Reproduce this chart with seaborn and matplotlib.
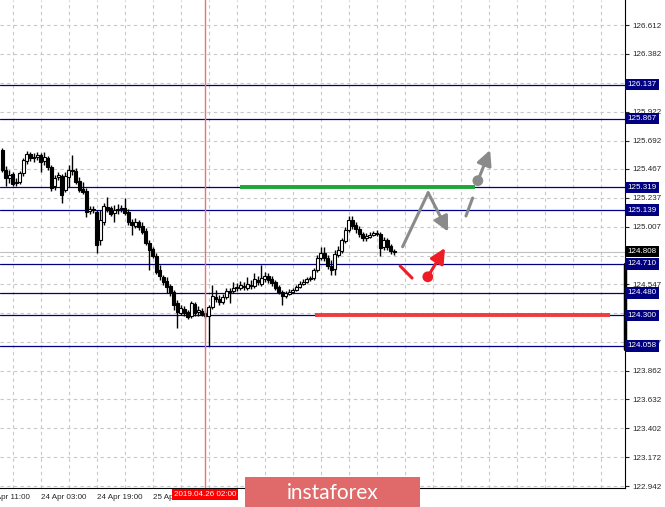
import numpy as np
import pandas as pd
import matplotlib
matplotlib.use("Agg")
import matplotlib.pyplot as plt
import matplotlib.transforms as mtransforms
from matplotlib.patches import Rectangle
import seaborn as sns

# H1 bars (bar 0 = 23 Apr 14:00)
opens = [
    125.617, 125.458, 125.394, 125.426, 125.354, 125.362, 125.434, 125.529, 125.585, 125.553,
    125.561, 125.577, 125.529, 125.553, 125.481, 125.330, 125.402, 125.410, 125.298, 125.402,
    125.450, 125.450, 125.370, 125.306, 125.290, 125.131, 125.147, 125.123, 124.900, 125.044,
    125.163, 125.155, 125.115, 125.139, 125.147, 125.155, 125.123, 125.044, 125.012, 125.044,
    125.012, 124.972, 124.877, 124.829, 124.773, 124.661, 124.606, 124.574, 124.534, 124.487,
    124.399, 124.319, 124.351, 124.327, 124.295, 124.391, 124.327, 124.335, 124.319, 124.295,
    124.367, 124.447, 124.431, 124.407, 124.447, 124.495, 124.495, 124.518, 124.518, 124.534,
    124.518, 124.542, 124.534, 124.582, 124.550, 124.590, 124.614, 124.590, 124.566, 124.526,
    124.487, 124.455, 124.471, 124.487, 124.503, 124.526, 124.550, 124.566, 124.590, 124.598,
    124.661, 124.757, 124.797, 124.757, 124.693, 124.669, 124.781, 124.813, 124.892, 124.980,
    125.059, 125.020, 124.988, 124.948, 124.916, 124.924, 124.940, 124.956, 124.948, 124.845,
    124.900, 124.853, 124.813,
]
highs = [
    125.633, 125.489, 125.458, 125.442, 125.394, 125.450, 125.553, 125.609, 125.601, 125.593,
    125.601, 125.593, 125.601, 125.569, 125.497, 125.418, 125.442, 125.426, 125.442, 125.497,
    125.577, 125.474, 125.402, 125.362, 125.314, 125.171, 125.171, 125.139, 125.139, 125.195,
    125.243, 125.171, 125.179, 125.187, 125.179, 125.235, 125.147, 125.067, 125.075, 125.059,
    125.044, 124.996, 124.900, 124.845, 124.797, 124.701, 124.622, 124.606, 124.550, 124.503,
    124.423, 124.383, 124.375, 124.343, 124.415, 124.407, 124.375, 124.359, 124.343, 124.383,
    124.542, 124.503, 124.463, 124.471, 124.518, 124.518, 124.566, 124.558, 124.574, 124.566,
    124.606, 124.582, 124.638, 124.614, 124.701, 124.646, 124.638, 124.614, 124.582, 124.542,
    124.503, 124.495, 124.511, 124.518, 124.542, 124.574, 124.590, 124.606, 124.614, 124.677,
    124.781, 124.845, 124.845, 124.781, 124.741, 124.821, 124.853, 124.916, 125.004, 125.091,
    125.091, 125.044, 125.012, 124.964, 124.956, 124.964, 124.972, 124.980, 124.964, 124.924,
    124.916, 124.869, 124.829,
]
lows = [
    125.442, 125.330, 125.354, 125.330, 125.330, 125.346, 125.410, 125.505, 125.529, 125.521,
    125.537, 125.442, 125.497, 125.458, 125.290, 125.298, 125.378, 125.195, 125.282, 125.322,
    125.418, 125.346, 125.282, 125.266, 125.083, 125.107, 125.115, 124.797, 124.860, 125.020,
    125.123, 125.091, 125.044, 125.107, 125.123, 125.099, 125.020, 124.940, 124.996, 124.980,
    124.948, 124.860, 124.661, 124.757, 124.630, 124.581, 124.542, 124.479, 124.455, 124.343,
    124.200, 124.303, 124.295, 124.271, 124.279, 124.295, 124.295, 124.295, 124.279, 124.058,
    124.351, 124.407, 124.383, 124.391, 124.431, 124.399, 124.479, 124.495, 124.503, 124.503,
    124.503, 124.511, 124.518, 124.542, 124.534, 124.566, 124.558, 124.534, 124.503, 124.471,
    124.383, 124.439, 124.463, 124.479, 124.495, 124.518, 124.542, 124.558, 124.574, 124.582,
    124.646, 124.741, 124.733, 124.669, 124.622, 124.622, 124.765, 124.797, 124.877, 124.964,
    124.988, 124.956, 124.924, 124.892, 124.892, 124.916, 124.932, 124.932, 124.773, 124.821,
    124.821, 124.789, 124.785,
]
closes = [
    125.458, 125.394, 125.418, 125.346, 125.362, 125.434, 125.537, 125.585, 125.553, 125.561,
    125.577, 125.521, 125.561, 125.481, 125.314, 125.394, 125.418, 125.259, 125.410, 125.458,
    125.448, 125.362, 125.298, 125.282, 125.123, 125.147, 125.139, 124.860, 125.059, 125.171,
    125.139, 125.107, 125.139, 125.147, 125.155, 125.115, 125.044, 125.020, 125.044, 125.004,
    124.964, 124.877, 124.821, 124.773, 124.646, 124.614, 124.566, 124.526, 124.479, 124.383,
    124.327, 124.359, 124.319, 124.287, 124.399, 124.319, 124.343, 124.311, 124.295, 124.367,
    124.455, 124.431, 124.407, 124.447, 124.495, 124.490, 124.518, 124.526, 124.542, 124.526,
    124.550, 124.534, 124.590, 124.566, 124.598, 124.614, 124.582, 124.558, 124.518, 124.487,
    124.455, 124.479, 124.487, 124.503, 124.526, 124.550, 124.566, 124.590, 124.598, 124.661,
    124.757, 124.797, 124.757, 124.693, 124.661, 124.789, 124.821, 124.900, 124.980, 125.059,
    125.012, 124.988, 124.948, 124.916, 124.932, 124.940, 124.956, 124.948, 124.837, 124.900,
    124.845, 124.813, 124.808,
]

# price scale: all grid levels, the ones hidden under level tags get no label
price_grid = [126.612, 126.382, 126.152, 125.922, 125.692, 125.467, 125.237, 125.007,
              124.777, 124.547, 124.317, 124.087, 123.862, 123.632, 123.402, 123.172, 122.942]
price_labels = ["126.612", "126.382", "", "125.922", "125.692", "125.467", "125.237",
                "125.007", "", "124.547", "", "124.087", "123.862", "123.632",
                "123.402", "123.172", "122.942"]
first_time_tick, first_time_label = -5, "23 Apr 11:00"   # cut by the left edge
time_ticks = [11, 27, 43]
time_labels = ["24 Apr 03:00", "24 Apr 19:00", "25 Apr 11:00"]
levels = [126.137, 125.867, 125.319, 125.139, 124.710, 124.480, 124.300, 124.058]
bid = 124.808
marker_bar = 58
marker_label = "2019.04.26 02:00"

# forecast drawing (bar index, price)
green_bars, green_price = [68, 135.1], 125.319
red_bars, red_price = [89.4, 173.7], 124.300
gray_path_x = [114.4, 121.7, 127.4]
gray_path_y = [124.847, 125.277, 124.967]
gray_dash_x = [132.5, 134.4]
gray_dash_y = [125.092, 125.235]
gray_dot = (135.9, 125.373)
gray_tip = (139.4, 125.617)
red_seg_x = [113.7, 117.1]
red_seg_y = [124.694, 124.598]
red_dot = (121.6, 124.608)
red_tip = (126.5, 124.837)

sns.set_style("white")
plt.rcParams['font.family'] = ['Liberation Sans', 'DejaVu Sans']
fs = 5.8
navy = '#000080'
gray = '#8a8a8a'
red = '#ee1c25'

fig = plt.figure(figsize=(6.65, 5.07), dpi=100)
ax = fig.add_axes([0, 19 / 507, 625 / 665, 488 / 507])

df = pd.DataFrame(dict(open=opens, high=highs, low=lows, close=closes))
df['bar'] = np.arange(len(df))
df['up'] = df['close'] >= df['open']

# candles
ax.vlines(df['bar'], df['low'], df['high'], color='black', lw=1.0, zorder=3)
body_lo = df[['open', 'close']].min(axis=1)
body_h = (df['close'] - df['open']).abs().clip(lower=0.006)
ax.bar(df['bar'], body_h, bottom=body_lo, width=0.85,
       color=np.where(df['up'], 'white', 'black'), edgecolor='black', lw=0.8, zorder=4)

# horizontal levels
ax.axhline(bid, color='#c0c0c0', lw=0.8, zorder=1.5)
for lv in levels:
    ax.axhline(lv, color=navy, lw=0.9, zorder=2)

trans = mtransforms.blended_transform_factory(ax.transAxes, ax.transData)
for lv in levels:
    ax.text(1.004, lv, f"{lv:.3f}", transform=trans, color='white', fontsize=fs,
            va='center', ha='left', zorder=10, clip_on=False,
            bbox=dict(boxstyle='square,pad=0.28', fc=navy, ec='none'))
ax.text(1.004, bid, f"{bid:.3f}", transform=trans, color='white', fontsize=fs,
        va='center', ha='left', zorder=10, clip_on=False,
        bbox=dict(boxstyle='square,pad=0.28', fc='black', ec='none'))
ax.plot([1.0, 1.0], [124.03, 124.71], transform=trans, color='black', lw=2.5,
        clip_on=False, zorder=9)

# time marker
ax.axvline(marker_bar, color='#f07070', lw=1, zorder=5)
tx = mtransforms.blended_transform_factory(ax.transData, ax.transAxes)
ax.text(marker_bar, -0.006, marker_label, transform=tx, ha='center', va='top',
        color='white', fontsize=fs, zorder=10, clip_on=False,
        bbox=dict(boxstyle='square,pad=0.25', fc='#ff0000', ec='none'))
ax.text(first_time_tick, -0.0115, first_time_label, transform=tx, ha='left', va='top',
        fontsize=fs, color='#262626', clip_on=False)

# forecast drawing
ax.plot(green_bars, [green_price] * 2, color='#1fa637', lw=2.8, zorder=6, solid_capstyle='butt')
ax.plot(red_bars, [red_price] * 2, color='#f03c3c', lw=2.8, zorder=6, solid_capstyle='butt')

arrow = dict(arrowstyle='-|>,head_length=0.9,head_width=0.45', lw=2.2,
             shrinkA=0, shrinkB=0)
ax.plot(gray_path_x[:2], gray_path_y[:2], color=gray, lw=2.2, zorder=7)
ax.annotate('', xy=(gray_path_x[2], gray_path_y[2]), xytext=(gray_path_x[1], gray_path_y[1]),
            arrowprops=dict(color=gray, **arrow), zorder=7)
ax.plot(gray_dash_x, gray_dash_y, color=gray, lw=2.2, zorder=7)
sns.scatterplot(x=[gray_dot[0]], y=[gray_dot[1]], color=gray, s=60, edgecolor='none', ax=ax, zorder=8)
ax.annotate('', xy=gray_tip, xytext=gray_dot, arrowprops=dict(color=gray, **arrow), zorder=7)

ax.plot(red_seg_x, red_seg_y, color=red, lw=2.2, zorder=7)
sns.scatterplot(x=[red_dot[0]], y=[red_dot[1]], color=red, s=60, edgecolor='none', ax=ax, zorder=8)
ax.annotate('', xy=red_tip, xytext=red_dot, arrowprops=dict(color=red, **arrow), zorder=7)

# grid + axes (ticks first, limits after: set_xticks would widen the view)
ax.set_yticks(price_grid)
ax.set_yticklabels(price_labels)
ax.yaxis.tick_right()
ax.set_xticks(time_ticks)
ax.set_xticklabels(time_labels, ha='left')
ax.set_xticks(np.arange(3, 178, 8), minor=True)
ax.set_xlim(-0.63, 177.94)
ax.set_ylim(122.927, 126.811)
ax.grid(True, which='both', color='#c8c8c8', ls=(0, (3, 3)), lw=0.8, zorder=0)
ax.set_axisbelow(True)
ax.tick_params(axis='x', which='minor', length=0)
ax.tick_params(axis='x', which='major', length=3, width=0.8, pad=1.5, labelsize=fs)
ax.tick_params(axis='y', length=3, width=0.8, pad=2, labelsize=fs)
for s in ['left', 'top']:
    ax.spines[s].set_visible(False)
for s in ['right', 'bottom']:
    ax.spines[s].set_color('black')
    ax.spines[s].set_linewidth(0.8)

# watermark
fig.patches.append(Rectangle((245 / 665, 0), 175 / 665, 30 / 507, transform=fig.transFigure,
                             fc='#e06a6a', ec='none', zorder=20))
fig.text(332.5 / 665, 14 / 507, 'instaforex', ha='center', va='center', color='white',
         fontsize=15, family=['Lato', 'DejaVu Sans'], zorder=21)

fig.savefig('out.png', dpi=100)
